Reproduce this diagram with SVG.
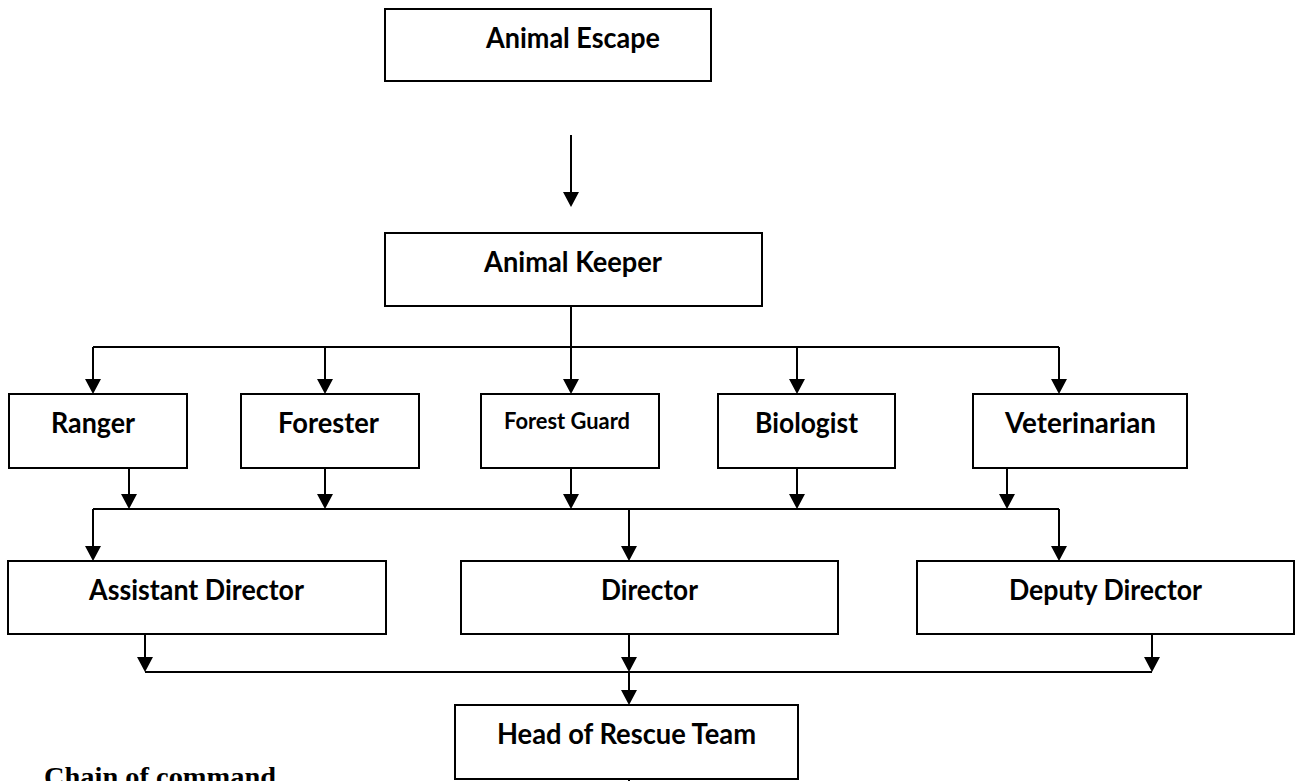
<svg xmlns="http://www.w3.org/2000/svg" width="1296" height="781" viewBox="0 0 1296 781">
<style>
.box{fill:#fff;stroke:#000;stroke-width:2}
.lbl{font-family:Lato,"Open Sans","Liberation Sans",sans-serif;font-weight:700;font-size:28px;fill:#000}
.sm{font-size:23px}
.ln{stroke:#000;stroke-width:2;fill:none}
.arr{marker-end:url(#ah)}
.cap{font-family:"Liberation Serif","Times New Roman",serif;font-weight:700;font-size:28px;fill:#000}
</style>
<defs>
<marker id="ah" viewBox="0 0 15 16" refX="13" refY="8" markerWidth="15" markerHeight="16" markerUnits="userSpaceOnUse" orient="auto">
<path d="M0,0 L15,8 L0,16 z" fill="#000"/>
</marker>
</defs>
<rect width="1296" height="781" fill="#fff"/>
<g id="connectors">
<line class="ln arr" x1="571" y1="135" x2="571" y2="205"/>
<line class="ln" x1="571" y1="306" x2="571" y2="347"/>
<line class="ln" x1="93" y1="347" x2="1059" y2="347"/>
<line class="ln arr" x1="93" y1="347" x2="93" y2="392"/>
<line class="ln arr" x1="325" y1="347" x2="325" y2="392"/>
<line class="ln arr" x1="571" y1="347" x2="571" y2="392"/>
<line class="ln arr" x1="797" y1="347" x2="797" y2="392"/>
<line class="ln arr" x1="1059" y1="347" x2="1059" y2="392"/>
<line class="ln arr" x1="129" y1="468" x2="129" y2="507"/>
<line class="ln arr" x1="325" y1="468" x2="325" y2="507"/>
<line class="ln arr" x1="571" y1="468" x2="571" y2="507"/>
<line class="ln arr" x1="797" y1="468" x2="797" y2="507"/>
<line class="ln arr" x1="1007" y1="468" x2="1007" y2="507"/>
<line class="ln" x1="93" y1="509" x2="1059" y2="509"/>
<line class="ln arr" x1="93" y1="509" x2="93" y2="559"/>
<line class="ln arr" x1="629" y1="509" x2="629" y2="559"/>
<line class="ln arr" x1="1059" y1="509" x2="1059" y2="559"/>
<line class="ln arr" x1="145" y1="634" x2="145" y2="670"/>
<line class="ln arr" x1="629" y1="634" x2="629" y2="670"/>
<line class="ln arr" x1="1152" y1="634" x2="1152" y2="670"/>
<line class="ln" x1="145" y1="672" x2="1152" y2="672"/>
<line class="ln arr" x1="629" y1="672" x2="629" y2="703"/>
<line class="ln" x1="629" y1="779" x2="629" y2="790"/>
</g>
<g id="n-animal-escape"><rect class="box" x="385" y="9" width="326" height="72"/><text class="lbl" x="486" y="48" textLength="174" lengthAdjust="spacingAndGlyphs">Animal Escape</text></g>
<g id="n-animal-keeper"><rect class="box" x="385" y="233" width="377" height="73"/><text class="lbl" x="484" y="272" textLength="178" lengthAdjust="spacingAndGlyphs">Animal Keeper</text></g>
<g id="n-ranger"><rect class="box" x="9" y="394" width="178" height="74"/><text class="lbl" x="51" y="433" textLength="84" lengthAdjust="spacingAndGlyphs">Ranger</text></g>
<g id="n-forester"><rect class="box" x="241" y="394" width="178" height="74"/><text class="lbl" x="278" y="433" textLength="101" lengthAdjust="spacingAndGlyphs">Forester</text></g>
<g id="n-forest-guard"><rect class="box" x="481" y="394" width="178" height="74"/><text class="lbl sm" x="504" y="429" textLength="126" lengthAdjust="spacingAndGlyphs">Forest Guard</text></g>
<g id="n-biologist"><rect class="box" x="718" y="394" width="177" height="74"/><text class="lbl" x="755" y="433" textLength="103" lengthAdjust="spacingAndGlyphs">Biologist</text></g>
<g id="n-veterinarian"><rect class="box" x="973" y="394" width="214" height="74"/><text class="lbl" x="1005" y="433" textLength="151" lengthAdjust="spacingAndGlyphs">Veterinarian</text></g>
<g id="n-assistant-director"><rect class="box" x="8" y="561" width="378" height="73"/><text class="lbl" x="89" y="600" textLength="215" lengthAdjust="spacingAndGlyphs">Assistant Director</text></g>
<g id="n-director"><rect class="box" x="461" y="561" width="377" height="73"/><text class="lbl" x="601" y="600" textLength="97" lengthAdjust="spacingAndGlyphs">Director</text></g>
<g id="n-deputy-director"><rect class="box" x="917" y="561" width="377" height="73"/><text class="lbl" x="1009" y="600" textLength="193" lengthAdjust="spacingAndGlyphs">Deputy Director</text></g>
<g id="n-head-rescue"><rect class="box" x="455" y="705" width="343" height="74"/><text class="lbl" x="497" y="744" textLength="259" lengthAdjust="spacingAndGlyphs">Head of Rescue Team</text></g>
<text class="cap" x="44" y="786" textLength="232" lengthAdjust="spacingAndGlyphs">Chain of command</text>
</svg>
